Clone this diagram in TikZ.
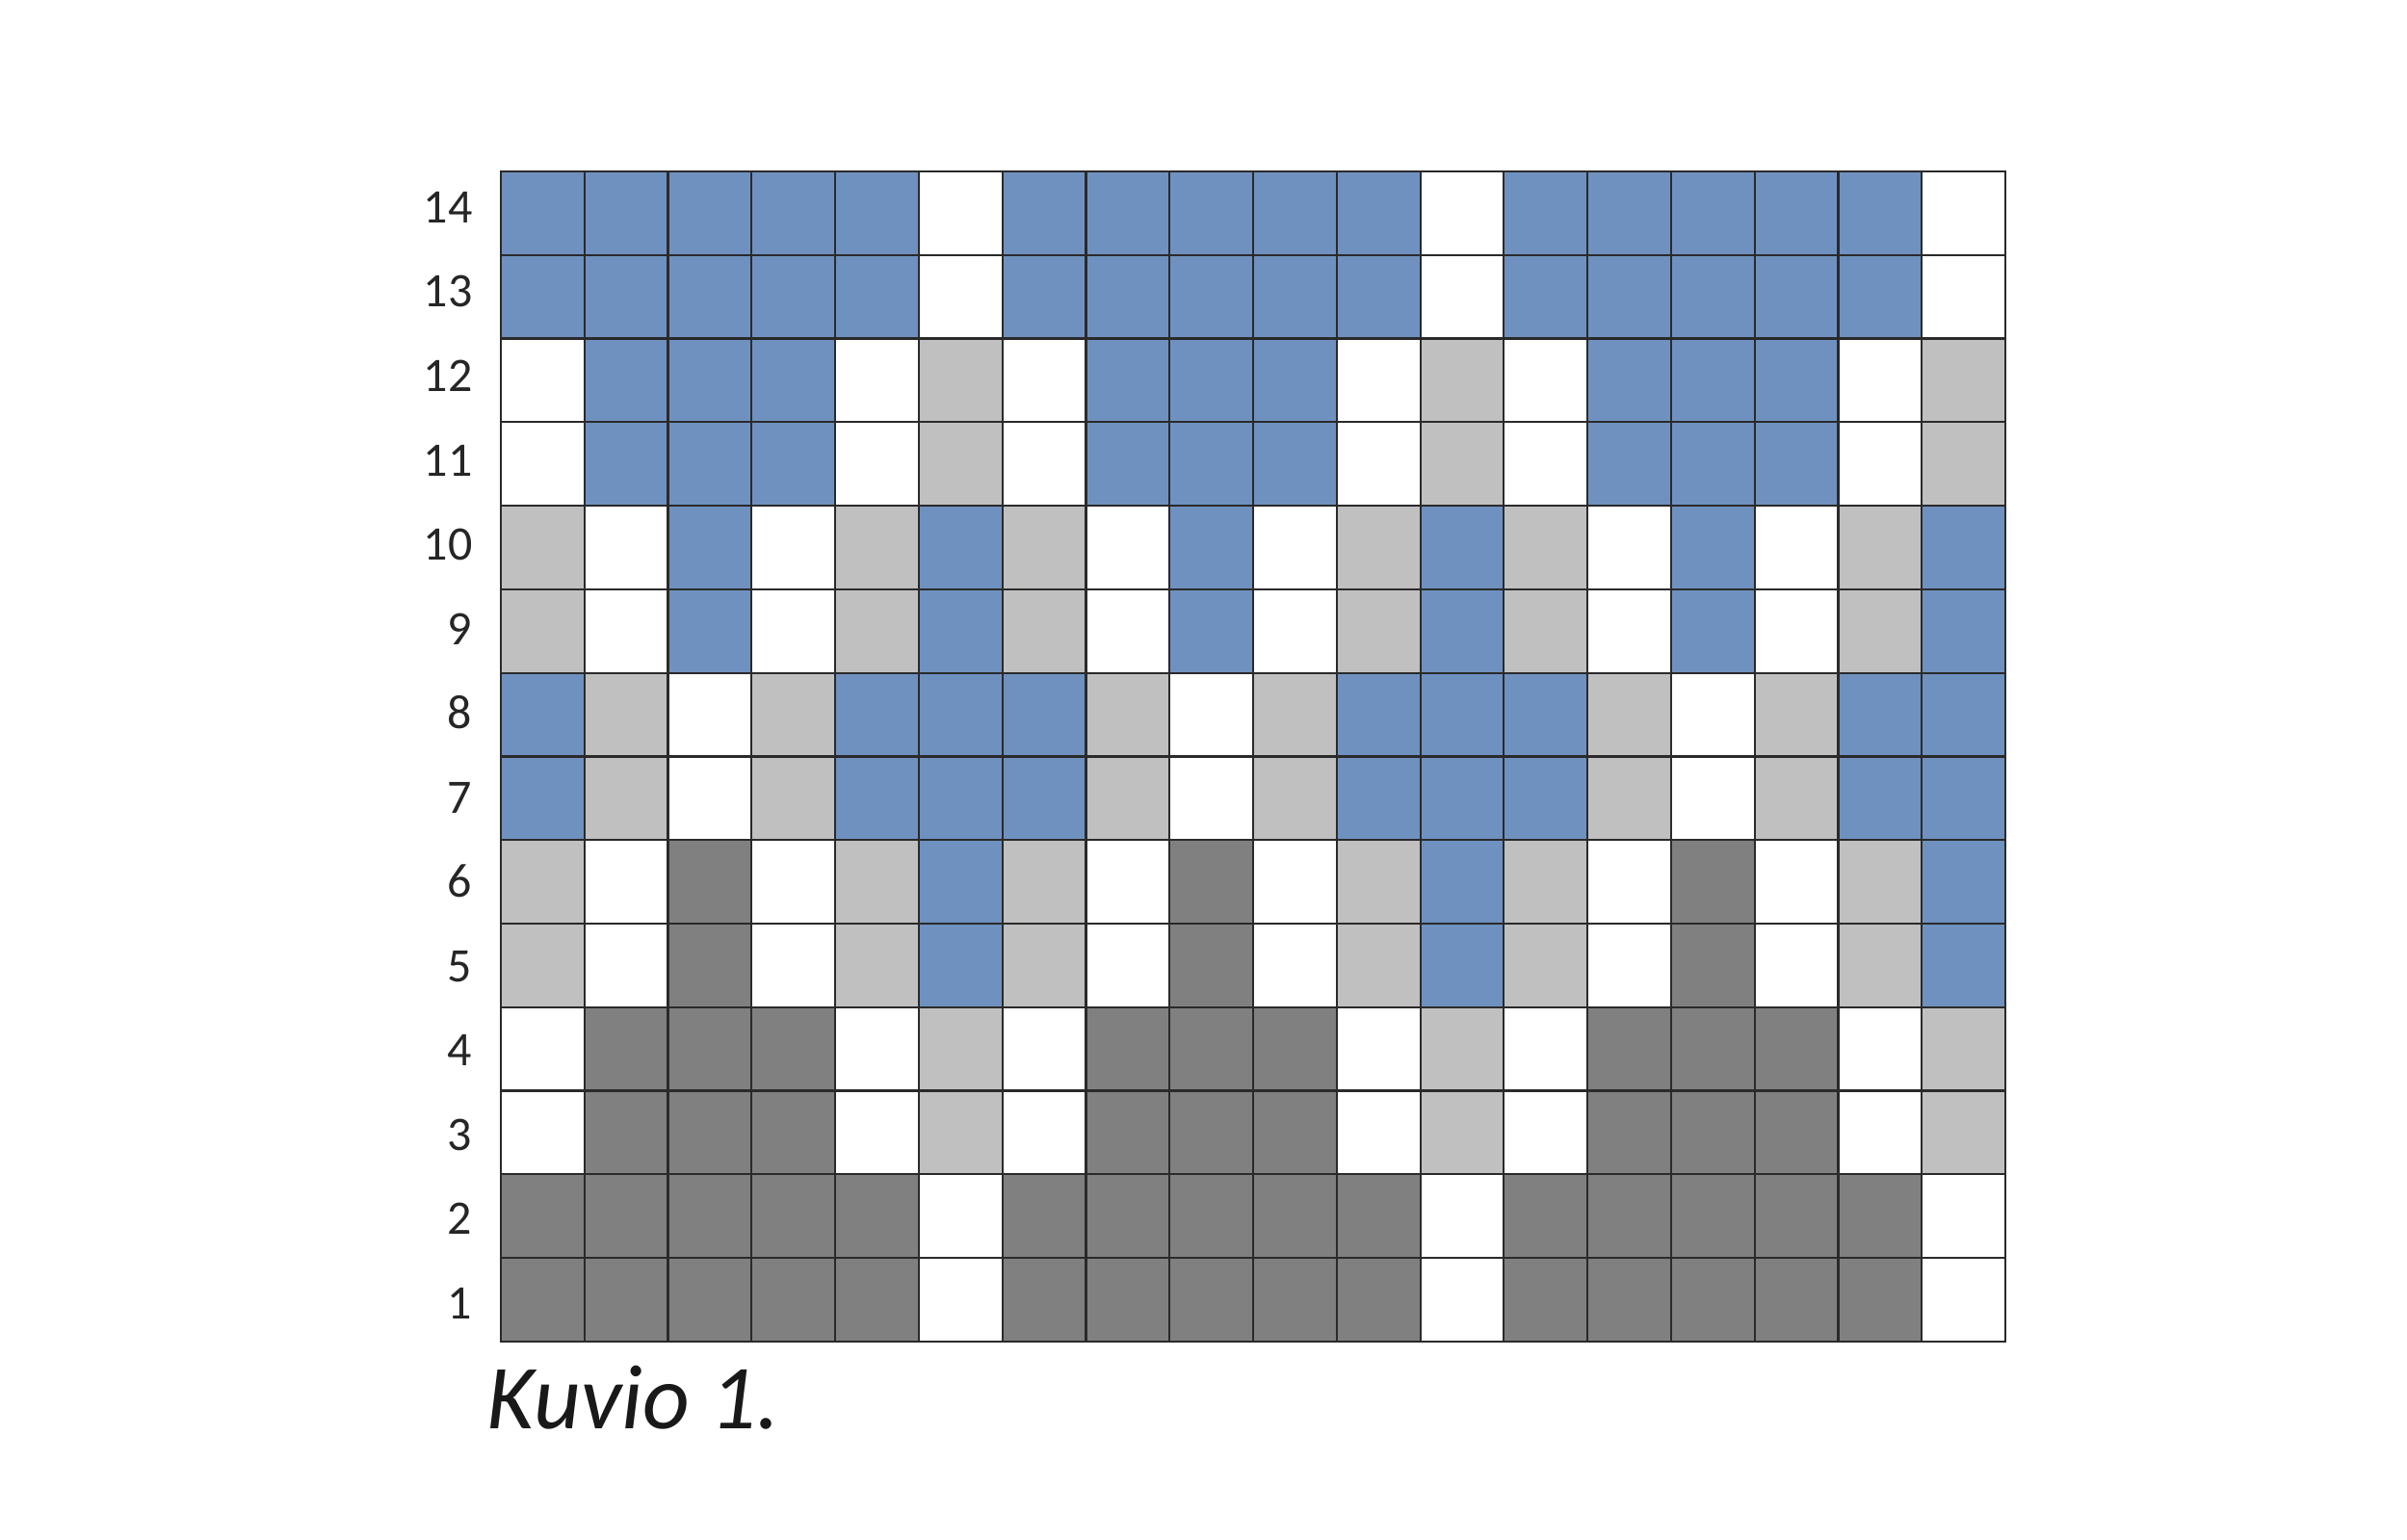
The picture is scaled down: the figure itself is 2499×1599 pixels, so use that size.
\documentclass[tikz,border=0pt]{standalone}
\usepackage{fontspec}
\setmainfont{Carlito}
\definecolor{cB}{HTML}{6F91BF}
\definecolor{cG}{HTML}{C0C0C0}
\definecolor{cD}{HTML}{808080}
\definecolor{cW}{HTML}{FFFFFF}
\definecolor{gridline}{HTML}{2A2A2A}
\begin{document}
\begin{tikzpicture}[x=0.3pt,y=-0.3pt,
  cell/.style={rectangle, draw=gridline, line width=0.65pt, minimum width=26.03pt, minimum height=26.03pt, inner sep=0pt, outer sep=0pt},
  rowlabel/.style={anchor=base east, inner sep=0pt, font=\fontsize{15}{15}\selectfont, text=black!85},
  caption/.style={anchor=base west, inner sep=0pt, font=\fontsize{28.5}{30}\selectfont\itshape, text=black!90}]
\useasboundingbox[fill=white] (0,0) rectangle (2499,1599);
\foreach \pat [count=\t] in {{B,B,B,B,B,W},{B,B,B,B,B,W},{W,B,B,B,W,G},{W,B,B,B,W,G},{G,W,B,W,G,B},{G,W,B,W,G,B},{B,G,W,G,B,B},{B,G,W,G,B,B},{G,W,D,W,G,B},{G,W,D,W,G,B},{W,D,D,D,W,G},{W,D,D,D,W,G},{D,D,D,D,D,W},{D,D,D,D,D,W}} {
  \pgfmathtruncatemacro{\r}{15-\t}
  \foreach \b in {0,1,2} {
    \foreach \k [count=\i] in \pat {
      \pgfmathtruncatemacro{\c}{6*\b+\i}
      \node[cell, fill=c\k] (cell-\r-\c) at ({520+(\c-0.5)*86.78}, {178+(\t-0.5)*86.78}) {};
    }
  }
  \node[rowlabel] (lab\r) at (491, {178+(\t-0.5)*86.78+10+(\t-1)*10/13}) {\r};
}
\node[caption] (kuvio) at (505,1483) {Kuvio 1.};
\end{tikzpicture}
\end{document}
